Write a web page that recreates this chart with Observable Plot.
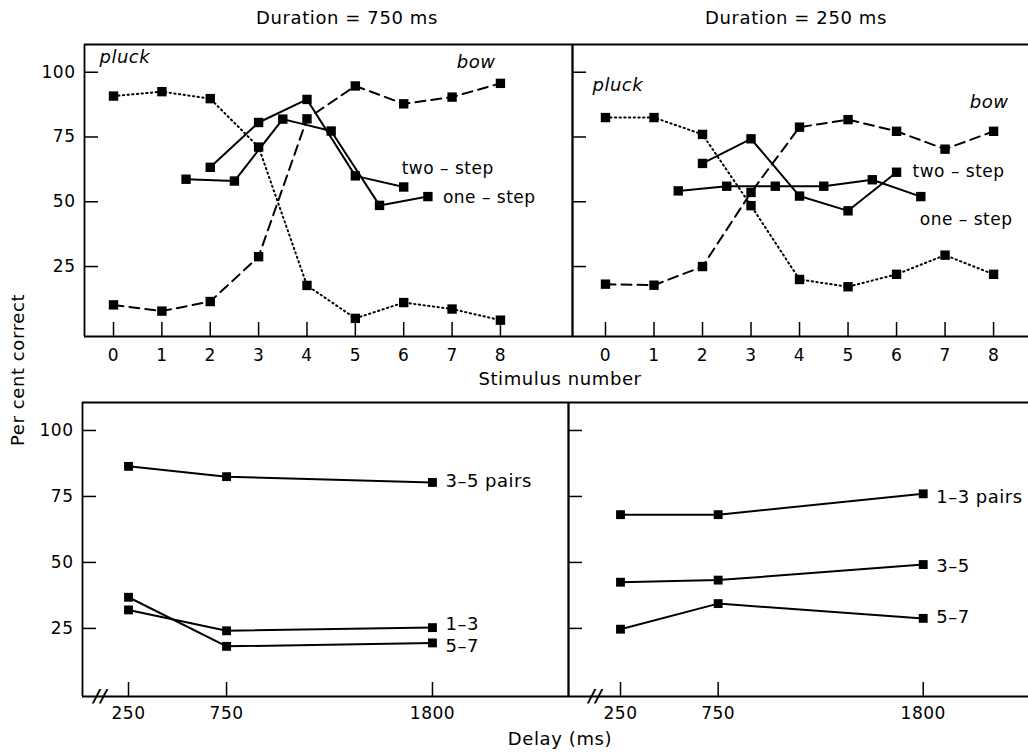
<!DOCTYPE html>
<html><head><meta charset="utf-8">
<script src="https://cdn.jsdelivr.net/npm/d3@7"></script>
<script src="https://cdn.jsdelivr.net/npm/@observablehq/plot@0.6"></script>
<style>
body{margin:0;background:#fff;}
#wrap{position:relative;width:1028px;height:752px;background:#fff;font-family:"DejaVu Sans",sans-serif;color:#000;overflow:hidden}
.lbl{position:absolute;font-size:18px;letter-spacing:0.6px;white-space:nowrap;transform:translate(-50%,-50%);}
.panel{position:absolute;}
.panel svg{background:transparent;overflow:visible;}
</style></head><body>
<div id="wrap">
  <div class="lbl" style="left:347px;top:17px">Duration = 750 ms</div>
  <div class="lbl" style="left:796px;top:17px">Duration = 250 ms</div>
  <div class="lbl" style="left:560px;top:378px">Stimulus number</div>
  <div class="lbl" style="left:560px;top:738px">Delay (ms)</div>
  <div class="lbl" style="left:17px;top:370px;transform:translate(-50%,-50%) rotate(-90deg)">Per cent correct</div>
  <div class="panel" id="tl" style="left:0px;top:0px"></div>
  <div class="panel" id="tr" style="left:572px;top:0px"></div>
  <div class="panel" id="bl" style="left:0px;top:360px"></div>
  <div class="panel" id="br" style="left:568px;top:360px"></div>
</div>
<script>
// ---- data ----
const stim = [0, 1, 2, 3, 4, 5, 6, 7, 8];
const oneStepX = [1.5, 2.5, 3.5, 4.5, 5.5, 6.5];
const twoStepX = [2, 3, 4, 5, 6];
const yTicks = [25, 50, 75, 100];
// Duration = 750 ms
const pluck750 = [90.8, 92.5, 89.8, 71.1, 17.7, 5.0, 11.1, 8.6, 4.3];
const bow750 = [10.2, 7.8, 11.5, 28.8, 82.0, 94.7, 87.8, 90.4, 95.7];
const oneStep750 = [58.7, 58.0, 81.9, 77.3, 48.6, 52.0];
const twoStep750 = [63.3, 80.6, 89.5, 60.0, 55.7];
// Duration = 250 ms
const pluck250 = [82.5, 82.5, 76.0, 48.5, 20.0, 17.2, 22.0, 29.4, 22.0];
const bow250 = [18.2, 17.8, 25.0, 53.6, 78.8, 81.7, 77.2, 70.3, 77.2];
const oneStep250 = [54.2, 56.0, 56.0, 56.0, 58.5, 52.0];
const twoStep250 = [64.8, 74.3, 52.2, 46.5, 61.4];
// Delay panels
const delays = [250, 750, 1800];
const p35_750 = [86.4, 82.5, 80.3];
const p13_750 = [32.0, 24.1, 25.3];
const p57_750 = [36.8, 18.2, 19.5];
const p13_250 = [68.1, 68.1, 76.0];
const p35_250 = [42.5, 43.3, 49.2];
const p57_250 = [24.7, 34.4, 28.8];
const stepLabels = ["two – step", "one – step"];
const endLabels = ["pluck", "bow"];

const rows = (xs, ys) => xs.map((x, i) => ({x, y: ys[i]}));
const style = {background: "transparent", fontFamily: "DejaVu Sans, sans-serif", fontSize: "17px", color: "black", overflow: "visible", letterSpacing: "0.5px"};
const FW = 1.8;
const LW = 2;

function topPanel(el, o) {
  const pw = o.width - o.ml - o.mr, ph = o.height - o.mt - o.mb;
  const yDom = [-2, 110.7];
  const marks = [
    Plot.ruleY(yDom, {stroke: "black", strokeWidth: FW}),
    Plot.ruleX([o.xDomain[0]], {stroke: "black", strokeWidth: FW}),
    o.rightEdge ? Plot.ruleX([o.xDomain[1]], {stroke: "black", strokeWidth: FW}) : null,
    Plot.ruleY(yTicks, {stroke: "black", strokeWidth: 1.5, insetRight: pw - 14}),
    Plot.ruleX(stim, {stroke: "black", strokeWidth: 1.5, insetTop: ph - 14}),
    Plot.line(rows(stim, o.pluck), {x: "x", y: "y", stroke: "black", strokeWidth: 2, strokeDasharray: "1.3,3.4"}),
    Plot.line(rows(stim, o.bow), {x: "x", y: "y", stroke: "black", strokeWidth: LW, strokeDasharray: "10,6"}),
    Plot.line(rows(oneStepX, o.one), {x: "x", y: "y", stroke: "black", strokeWidth: LW}),
    Plot.line(rows(twoStepX, o.two), {x: "x", y: "y", stroke: "black", strokeWidth: LW}),
    Plot.dot(rows(stim, o.pluck), {x: "x", y: "y", symbol: "square", r: 5.3, fill: "black", stroke: null}),
    Plot.dot(rows(stim, o.bow), {x: "x", y: "y", symbol: "square", r: 5.3, fill: "black", stroke: null}),
    Plot.dot(rows(oneStepX, o.one), {x: "x", y: "y", symbol: "square", r: 5.3, fill: "black", stroke: null}),
    Plot.dot(rows(twoStepX, o.two), {x: "x", y: "y", symbol: "square", r: 5.3, fill: "black", stroke: null}),
    Plot.text([{x: twoStepX[4], y: o.two[4], t: stepLabels[0]}], {x: "x", y: "y", text: "t", textAnchor: "start", dx: o.twoDx, dy: o.twoDy, fontSize: 17}),
    Plot.text([{x: oneStepX[5], y: o.one[5], t: stepLabels[1]}], {x: "x", y: "y", text: "t", textAnchor: "start", dx: o.oneDx, dy: o.oneDy, fontSize: 17}),
    Plot.text([endLabels[0]], {frameAnchor: "top-left", textAnchor: "start", lineAnchor: "middle", dx: o.pluckDx, dy: o.pluckDy, fontSize: 18, fontStyle: "italic"}),
    Plot.text([endLabels[1]], {frameAnchor: "top-right", textAnchor: "end", lineAnchor: "middle", dx: o.bowDx, dy: o.bowDy, fontSize: 18, fontStyle: "italic"})
  ];
  const p = Plot.plot({
    width: o.width, height: o.height,
    marginLeft: o.ml, marginRight: o.mr, marginTop: o.mt, marginBottom: o.mb,
    style,
    x: {domain: o.xDomain, ticks: stim, tickSize: 0, tickPadding: 12, label: null, tickFormat: d => String(d)},
    y: {domain: yDom, ticks: yTicks, tickSize: 0, tickPadding: 9, label: null, axis: o.showY ? "left" : null},
    marks
  });
  document.getElementById(el).appendChild(p);
}

function bottomPanel(el, o) {
  const pw = o.width - o.ml - o.mr, ph = o.height - o.mt - o.mb;
  const yDom = [-0.8, 110.6];
  const series = o.series;
  const marks = [
    Plot.ruleY(yDom, {stroke: "black", strokeWidth: FW}),
    Plot.ruleX([o.xDomain[0]], {stroke: "black", strokeWidth: FW}),
    o.rightEdge ? Plot.ruleX([o.xDomain[1]], {stroke: "black", strokeWidth: FW}) : null,
    Plot.ruleY(yTicks, {stroke: "black", strokeWidth: 1.5, insetRight: pw - 14}),
    Plot.ruleX(delays, {stroke: "black", strokeWidth: 1.5, insetTop: ph - 14}),
    Plot.text(["//"], {frameAnchor: "bottom-left", textAnchor: "middle", lineAnchor: "middle", dx: o.breakDx, dy: 0, fontSize: 18, fontStyle: "italic", fontWeight: "bold", letterSpacing: "-3px"}),
    ...series.flatMap(s => [
      Plot.line(rows(delays, s.v), {x: "x", y: "y", stroke: "black", strokeWidth: LW}),
      Plot.dot(rows(delays, s.v), {x: "x", y: "y", symbol: "square", r: 5, fill: "black", stroke: null}),
      Plot.text([{x: delays[2], y: s.v[2], t: s.label}], {x: "x", y: "y", text: "t", textAnchor: "start", dx: 13, dy: s.dy, fontSize: 18})
    ])
  ];
  const p = Plot.plot({
    width: o.width, height: o.height,
    marginLeft: o.ml, marginRight: o.mr, marginTop: o.mt, marginBottom: o.mb,
    style,
    x: {domain: o.xDomain, ticks: delays, tickSize: 0, tickPadding: 10, label: null, tickFormat: d => String(d)},
    y: {domain: yDom, ticks: yTicks, tickSize: 0, tickPadding: 9, label: null, axis: o.showY ? "left" : null},
    marks
  });
  document.getElementById(el).appendChild(p);
}

topPanel("tl", {width: 572, height: 373, ml: 84, mr: 0, mt: 44, mb: 37, xDomain: [-0.6, 9.49], showY: true, rightEdge: true,
  pluck: pluck750, bow: bow750, one: oneStep750, two: twoStep750,
  twoDx: -2, twoDy: -18, oneDx: 15, oneDy: 1, pluckDx: 15, pluckDy: 13, bowDx: -77, bowDy: 18});
topPanel("tr", {width: 456, height: 373, ml: 0, mr: 0, mt: 44, mb: 37, xDomain: [-0.68, 8.72], showY: false, rightEdge: false,
  pluck: pluck250, bow: bow250, one: oneStep250, two: twoStep250,
  twoDx: 16, twoDy: -1, oneDx: -1, oneDy: 23, pluckDx: 20, pluckDy: 41, bowDx: -20, bowDy: 58});
bottomPanel("bl", {width: 568, height: 372, ml: 82, mr: 0, mt: 42, mb: 36, xDomain: [15.4, 2493.7], showY: true, rightEdge: true, breakDx: 18,
  series: [{v: p35_750, label: "3–5 pairs", dy: -1}, {v: p13_750, label: "1–3", dy: -3}, {v: p57_750, label: "5–7", dy: 3}]});
bottomPanel("br", {width: 460, height: 372, ml: 0, mr: 0, mt: 42, mb: 36, xDomain: [-16.3, 2339], showY: false, rightEdge: false, breakDx: 27,
  series: [{v: p13_250, label: "1–3 pairs", dy: 3}, {v: p35_250, label: "3–5", dy: 2}, {v: p57_250, label: "5–7", dy: -1}]});
</script>
</body></html>
